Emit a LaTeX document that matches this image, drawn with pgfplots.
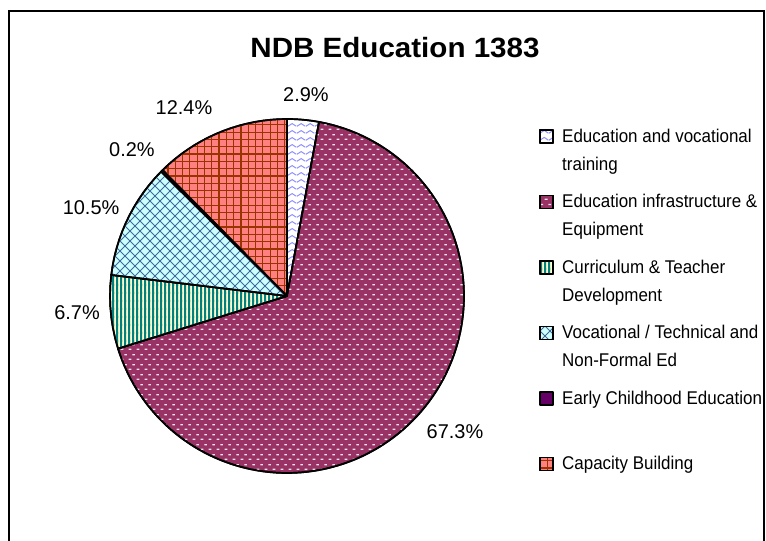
\documentclass[border=0pt]{standalone}
\usepackage{pgfplots}
\pgfplotsset{compat=1.18}
\usetikzlibrary{patterns}
\usepackage{fontspec}
\setmainfont{Liberation Sans}
\newfontfamily\legfont{Liberation Sans}[FakeStretch=0.92]
\newfontfamily\titlefont{Liberation Sans}[FakeStretch=1.06]

\definecolor{cwave}{HTML}{8F8FFF}
\definecolor{cinfra}{HTML}{993366}
\definecolor{cyellow}{HTML}{FFFFCC}
\definecolor{cteal}{HTML}{008080}
\definecolor{ccyan}{HTML}{CCFFFF}
\definecolor{chatch}{HTML}{3F6A99}
\definecolor{cpurple}{HTML}{660066}
\definecolor{csalmon}{HTML}{FF8080}
\definecolor{cgrid}{HTML}{993300}
\definecolor{cdash}{HTML}{F4E4EC}

% fill patterns (form only, so pattern color can be set)
\pgfdeclarepatternformonly{wave}{\pgfqpoint{0bp}{0bp}}{\pgfqpoint{9bp}{7bp}}{\pgfqpoint{9bp}{7bp}}{
  \pgfsetlinewidth{1.1bp}
  \pgfpathmoveto{\pgfqpoint{0bp}{2bp}}
  \pgfpathcurveto{\pgfqpoint{1.5bp}{2bp}}{\pgfqpoint{3bp}{5bp}}{\pgfqpoint{4.5bp}{5bp}}
  \pgfpathcurveto{\pgfqpoint{6bp}{5bp}}{\pgfqpoint{7.5bp}{2bp}}{\pgfqpoint{9bp}{2bp}}
  \pgfusepath{stroke}}
\pgfdeclarepatternformonly{dashes}{\pgfqpoint{0bp}{0bp}}{\pgfqpoint{8bp}{10bp}}{\pgfqpoint{8bp}{10bp}}{
  \pgfpathrectangle{\pgfqpoint{0.8bp}{1.2bp}}{\pgfqpoint{3bp}{1.3bp}}
  \pgfpathrectangle{\pgfqpoint{4.8bp}{6.2bp}}{\pgfqpoint{3bp}{1.3bp}}
  \pgfusepath{fill}}
\pgfdeclarepatternformonly{vstripes}{\pgfqpoint{0bp}{-1bp}}{\pgfqpoint{8bp}{9bp}}{\pgfqpoint{8bp}{8bp}}{
  \pgfpathrectangle{\pgfqpoint{0bp}{-1bp}}{\pgfqpoint{2bp}{10bp}}
  \pgfpathrectangle{\pgfqpoint{4bp}{-1bp}}{\pgfqpoint{2bp}{10bp}}
  \pgfusepath{fill}}
\pgfdeclarepatternformonly{xhatch}{\pgfqpoint{-1bp}{-1bp}}{\pgfqpoint{11bp}{11bp}}{\pgfqpoint{10bp}{10bp}}{
  \pgfsetlinewidth{0.9bp}
  \pgfpathmoveto{\pgfqpoint{0bp}{0bp}}\pgfpathlineto{\pgfqpoint{10bp}{10bp}}
  \pgfpathmoveto{\pgfqpoint{0bp}{10bp}}\pgfpathlineto{\pgfqpoint{10bp}{0bp}}
  \pgfusepath{stroke}}
\pgfdeclarepatternformonly{grid7}{\pgfqpoint{-1bp}{-1bp}}{\pgfqpoint{8.3bp}{8.3bp}}{\pgfqpoint{7.3bp}{7.3bp}}{
  \pgfsetlinewidth{1.2bp}
  \pgfpathmoveto{\pgfqpoint{0bp}{0bp}}\pgfpathlineto{\pgfqpoint{7.3bp}{0bp}}
  \pgfpathmoveto{\pgfqpoint{0bp}{0bp}}\pgfpathlineto{\pgfqpoint{0bp}{7.3bp}}
  \pgfusepath{stroke}}

% shares in percent, clockwise from 12 o'clock
\def\vA{2.9}
\def\vB{67.3}
\def\vC{6.7}
\def\vD{10.5}
\def\vE{0.2}
\def\vF{12.4}

\pgfmathsetmacro\bA{90-3.6*\vA}
\pgfmathsetmacro\bB{\bA-3.6*\vB}
\pgfmathsetmacro\bC{\bB-3.6*\vC}
\pgfmathsetmacro\bD{\bC-3.6*\vD}
\pgfmathsetmacro\bE{\bD-3.6*\vE}
\pgfmathsetmacro\bF{\bE-3.6*\vF}

\newcommand\leg[1]{\parbox[t]{215bp}{#1}}

\begin{document}
\begin{tikzpicture}[x=1bp,y=1bp]
\useasboundingbox (0,0) rectangle (766,541);
\clip (0,0) rectangle (766,541);
\draw[line width=2bp] (9,-10) -- (9,530) -- (764,530) -- (764,-10);
\node[font=\titlefont\bfseries\fontsize{28}{34}\selectfont, anchor=base] at (395,483) {NDB Education 1383};

\begin{axis}[
    at={(287bp,245bp)}, anchor=center,
    scale only axis, width=354bp, height=354bp,
    xmin=-1, xmax=1, ymin=-1, ymax=1,
    hide axis, clip=false,
    every axis plot/.append style={draw=black, line width=1.7bp, line join=round},
    legend image code/.code={\draw[#1, line width=1.4bp] (0bp,-1bp) rectangle (13bp,12bp);},
    legend style={at={(1.2119,0.9718)}, anchor=north west, draw=none, fill=none,
        inner sep=0pt, row sep=12.5bp, column sep=8.6bp,
        cells={anchor=base west},
        nodes={inner sep=0pt, text height=13bp, text depth=40bp,
               font=\legfont\fontsize{18.5}{28}\selectfont}},
]
\addplot[fill=white, postaction={pattern=wave, pattern color=cwave},
    domain=\bA:90, samples=6] ({cos(x)},{sin(x)}) -- (axis cs:0,0) -- cycle;
\addlegendentry{\leg{Education and vocational\\training}}
\addplot[fill=cinfra, postaction={pattern=dashes, pattern color=cdash},
    domain=\bB:\bA, samples=120] ({cos(x)},{sin(x)}) -- (axis cs:0,0) -- cycle;
\addlegendentry{\leg{Education infrastructure \&\\Equipment}}
\addplot[fill=cyellow, postaction={pattern=vstripes, pattern color=cteal},
    domain=\bC:\bB, samples=8] ({cos(x)},{sin(x)}) -- (axis cs:0,0) -- cycle;
\addlegendentry{\leg{Curriculum \& Teacher\\Development}}
\addplot[fill=ccyan, postaction={pattern=xhatch, pattern color=chatch},
    domain=\bD:\bC, samples=14] ({cos(x)},{sin(x)}) -- (axis cs:0,0) -- cycle;
\addlegendentry{\leg{Vocational / Technical and\\Non-Formal Ed}}
\addplot[fill=cpurple,
    domain=\bE:\bD, samples=2] ({cos(x)},{sin(x)}) -- (axis cs:0,0) -- cycle;
\addlegendentry{\leg{Early Childhood Education}}
\addplot[fill=csalmon, postaction={pattern=grid7, pattern color=cgrid},
    domain=\bF:\bE, samples=18] ({cos(x)},{sin(x)}) -- (axis cs:0,0) -- cycle;
\addlegendentry{\leg{Capacity Building}}

\begin{scope}[font=\fontsize{20}{24}\selectfont]
\node at (axis cs:0.107,1.138) {2.9\%};
\node at (axis cs:0.949,-0.768) {67.3\%};
\node at (axis cs:-1.186,-0.096) {6.7\%};
\node at (axis cs:-1.107,0.497) {10.5\%};
\node at (axis cs:-0.876,0.828) {0.2\%};
\node at (axis cs:-0.582,1.062) {12.4\%};
\end{scope}
\end{axis}
\end{tikzpicture}
\end{document}
